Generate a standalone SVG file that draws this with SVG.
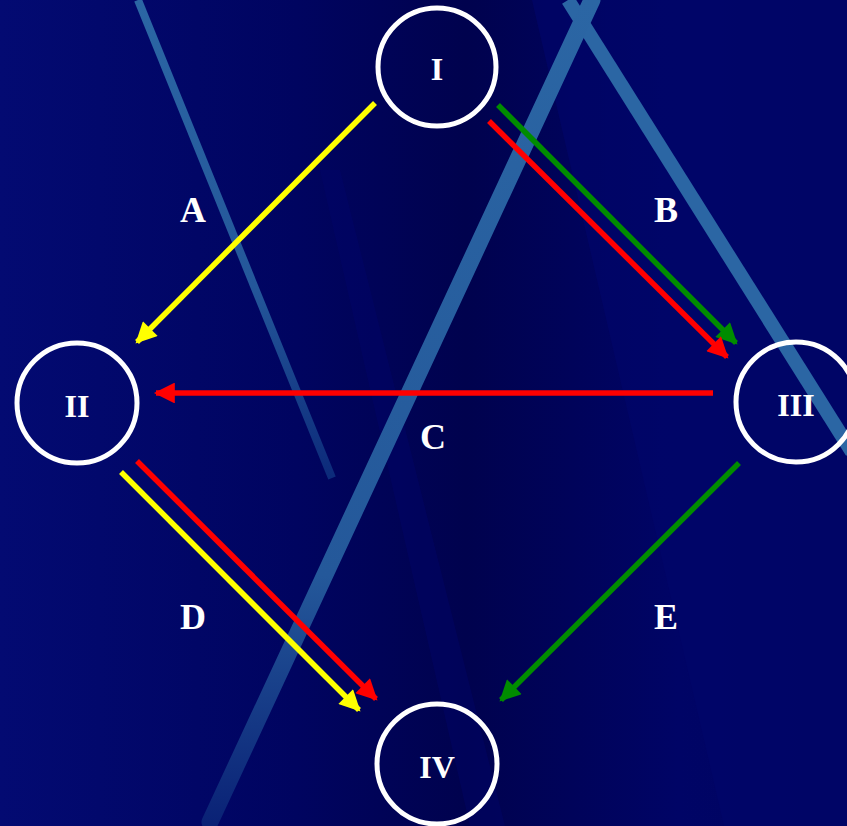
<svg xmlns="http://www.w3.org/2000/svg" width="847" height="826" viewBox="0 0 847 826">
<defs>
<linearGradient id="bg" x1="0" y1="0" x2="1" y2="0">
<stop offset="0" stop-color="#030a72"/>
<stop offset="0.35" stop-color="#000460"/>
<stop offset="0.55" stop-color="#00024e"/>
<stop offset="0.8" stop-color="#000466"/>
<stop offset="1" stop-color="#01055e"/>
</linearGradient>
<linearGradient id="fadeL" x1="0" y1="0" x2="0" y2="1">
<stop offset="0" stop-color="#2b66a4"/>
<stop offset="0.6" stop-color="#24579a"/>
<stop offset="1" stop-color="#0c2a7a"/>
</linearGradient>
<linearGradient id="fadeB" x1="0" y1="0" x2="0" y2="1">
<stop offset="0" stop-color="#2b66a4"/>
<stop offset="0.7" stop-color="#24589a"/>
<stop offset="1" stop-color="#0a2276"/>
</linearGradient>
<marker id="hy" viewBox="0 0 10 10" refX="9" refY="5" markerWidth="4" markerHeight="3.8" orient="auto" markerUnits="strokeWidth"><path d="M0,0 L10,5 L0,10 z" fill="#ffff00"/></marker>
<marker id="hr" viewBox="0 0 10 10" refX="9" refY="5" markerWidth="4" markerHeight="3.8" orient="auto" markerUnits="strokeWidth"><path d="M0,0 L10,5 L0,10 z" fill="#ff0000"/></marker>
<marker id="hg" viewBox="0 0 10 10" refX="9" refY="5" markerWidth="4" markerHeight="3.8" orient="auto" markerUnits="strokeWidth"><path d="M0,0 L10,5 L0,10 z" fill="#008c00"/></marker>
<style>
.node circle{fill:none;stroke:#ffffff;stroke-width:5}
.node text,.lbl{fill:#ffffff;font-family:"Liberation Serif","Times New Roman",serif;font-weight:bold;text-anchor:middle}
.node text{font-size:32px}
.lbl{font-size:36px}
.c{fill:none;stroke-width:5.5}
.y{stroke:#ffff00;marker-end:url(#hy)}
.r{stroke:#ff0000;marker-end:url(#hr)}
.g{stroke:#008c00;marker-end:url(#hg)}
</style>
</defs>
<g id="background">
<rect width="847" height="826" fill="url(#bg)"/>
<polygon points="532,0 847,0 847,826 724,826" fill="#00056a" opacity="0.7"/>
<polygon points="320,170 340,170 505,826 470,826" fill="#00066c" opacity="0.4"/>
<line x1="138" y1="0" x2="332" y2="478" stroke="url(#fadeL)" stroke-width="8"/>
<line x1="568" y1="0" x2="852" y2="452" stroke="#2b66a4" stroke-width="14"/>
<line x1="592" y1="0" x2="210" y2="822" stroke="url(#fadeB)" stroke-width="17" stroke-linecap="round"/>
</g>
<g id="connectors">
<line class="c y" x1="375" y1="103" x2="137" y2="342"/>
<line class="c g" x1="498" y1="105" x2="736" y2="343"/>
<line class="c r" x1="489" y1="121" x2="727" y2="357"/>
<line class="c r" x1="713" y1="393" x2="156" y2="393"/>
<line class="c y" x1="121" y1="472" x2="359" y2="710"/>
<line class="c r" x1="137" y1="461" x2="376" y2="699"/>
<line class="c g" x1="739" y1="463" x2="501" y2="700"/>
</g>
<g id="labels">
<text class="lbl" x="193" y="222">A</text>
<text class="lbl" x="666" y="222">B</text>
<text class="lbl" x="433" y="449">C</text>
<text class="lbl" x="193" y="629">D</text>
<text class="lbl" x="666" y="629">E</text>
</g>
<g id="node-I" class="node"><circle cx="437" cy="67" r="59"/><text x="437" y="80">I</text></g>
<g id="node-II" class="node"><circle cx="77" cy="403" r="60"/><text x="77" y="417">II</text></g>
<g id="node-III" class="node"><circle cx="796" cy="402" r="60"/><text x="796" y="416">III</text></g>
<g id="node-IV" class="node"><circle cx="437" cy="764" r="60"/><text x="437" y="778">IV</text></g>
</svg>
